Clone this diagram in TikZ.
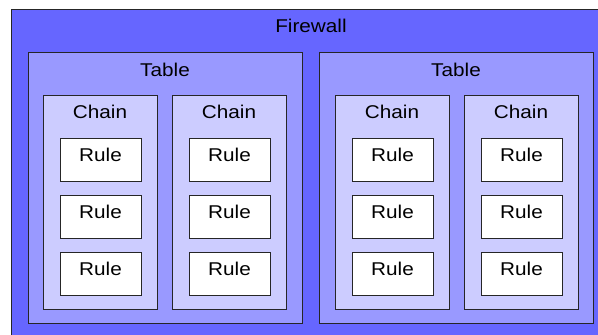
\documentclass[tikz,border=0pt]{standalone}
\usepackage{fontspec}
\setmainfont{Liberation Sans}[FakeStretch=1.12]
\begin{document}
\begin{tikzpicture}[x=1pt,y=-1pt,
  box/.style={draw=black!85,line width=0.9pt,anchor=north west,inner sep=0pt},
  fwbox/.style={box,fill=fwcol},
  tablebox/.style={box,fill=tabcol,minimum width=274pt,minimum height=271pt},
  chainbox/.style={box,fill=chaincol,minimum width=114pt,minimum height=214pt},
  rulebox/.style={box,fill=white,minimum width=81pt,minimum height=43pt},
  lbl/.style={font=\fontsize{18.5}{20}\selectfont,text=black,inner sep=0pt}]
\definecolor{fwcol}{HTML}{6666FF}
\definecolor{tabcol}{HTML}{9999FF}
\definecolor{chaincol}{HTML}{CCCCFF}
\useasboundingbox (0,0) rectangle (598,335);
\clip (0,0) rectangle (598,335);
\fill[white] (0,0) rectangle (598,335);
\node[fwbox,minimum width=592pt,minimum height=332pt] (fw) at (11,9) {};
\node[lbl] (fwl) at (311,26) {Firewall};
% tables
\foreach \t/\tx in {1/28,2/319}{
  \node[tablebox] (t\t) at (\tx,52) {};
  \node[lbl] (t\t l) at ([xshift=137pt,yshift=-18pt]t\t.north west) {Table};
}
% chains
\foreach \c/\cx in {1/43,2/172,3/335,4/464}{
  \node[chainbox] (c\c) at (\cx,95) {};
  \node[lbl] (c\c l) at ([xshift=57pt,yshift=-17pt]c\c.north west) {Chain};
  \foreach \r/\ry in {1/138,2/195,3/252}{
    \node[rulebox] (r\c\r) at (\cx+17,\ry) {};
    \node[lbl] (r\c\r l) at ([xshift=40.5pt,yshift=-17pt]r\c\r.north west) {Rule};
  }
}
\end{tikzpicture}
\end{document}
